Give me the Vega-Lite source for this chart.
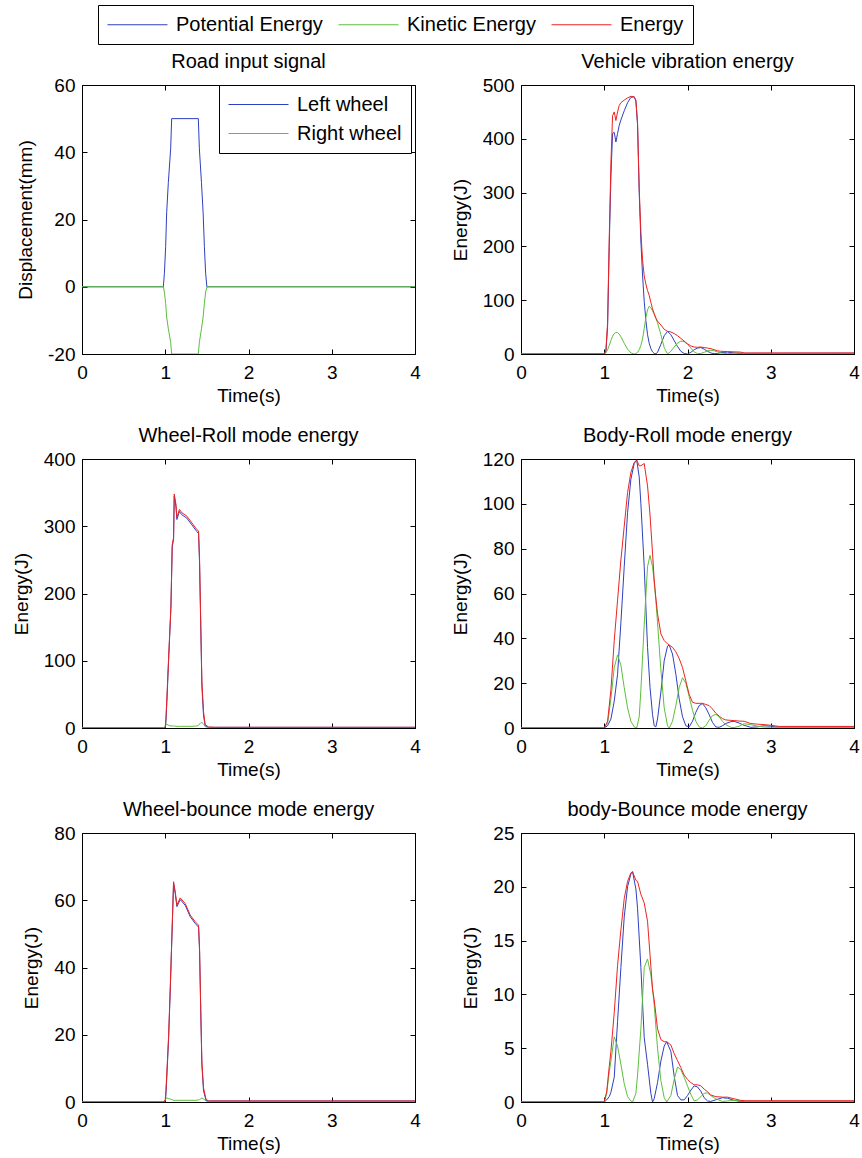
{
"$schema": "https://vega.github.io/schema/vega-lite/v6.json",
"autosize": {"type": "pad"},
"padding": {"left": 11, "top": 4, "right": 0, "bottom": 0},
"background": "white",
"config": {
 "font": "Liberation Sans",
 "view": {"stroke": "black", "strokeWidth": 1},
 "axis": {"grid": false, "domainColor": "black", "tickColor": "black", "labelColor": "black", "titleColor": "black", "labelFontSize": 19, "titleFontSize": 19, "titleFontWeight": "normal", "labelFont": "Liberation Sans", "titleFont": "Liberation Sans", "tickSize": -5, "labelFlush": false, "labelOverlap": false},
 "axisX": {"labelPadding": 14, "titlePadding": 4},
 "axisY": {"labelPadding": 12, "titlePadding": 12},
 "title": {"fontSize": 20, "fontWeight": "normal", "font": "Liberation Sans", "offset": 4, "color": "black"},
 "legend": {"labelFontSize": 20, "labelFont": "Liberation Sans", "labelColor": "black", "strokeColor": "black", "fillColor": "white", "symbolType": "M-3,0H3", "symbolStrokeWidth": 1, "symbolSize": 400, "symbolOffset": 20, "labelOffset": 28, "padding": 9, "columnPadding": 13, "rowPadding": 8, "labelLimit": 400}
},
"datasets": {
 "RI": [
  {"t":0,"L":0,"R":0},{"t":0.977,"L":0,"R":0},{"t":0.99,"L":4,"R":-1.6},{"t":1.005,"L":12,"R":-5},{"t":1.017,"L":22,"R":-9},{"t":1.037,"L":31,"R":-12.5},{"t":1.065,"L":41,"R":-16.5},{"t":1.077,"L":50,"R":-20},{"t":1.397,"L":50,"R":-20},{"t":1.41,"L":41,"R":-16.5},{"t":1.435,"L":31,"R":-12.5},{"t":1.455,"L":22,"R":-9},{"t":1.47,"L":12,"R":-5},{"t":1.485,"L":4,"R":-1.6},{"t":1.5,"L":0,"R":0},{"t":4,"L":0,"R":0}
 ],
 "VV": [
  {"t":0,"P":0,"K":0,"E":0},{"t":0.98,"P":0,"K":0,"E":0},{"t":1.0,"P":0,"K":0,"E":0},{"t":1.02,"P":5,"K":2,"E":7},{"t":1.04,"P":50,"K":8,"E":58},{"t":1.06,"P":200,"K":16,"E":216},{"t":1.08,"P":330,"K":25,"E":355},{"t":1.10,"P":410,"K":33,"E":443},{"t":1.12,"P":412,"K":38,"E":450},{"t":1.14,"P":394,"K":40,"E":434},{"t":1.16,"P":410,"K":40,"E":450},{"t":1.18,"P":425,"K":37,"E":462},{"t":1.20,"P":435,"K":32,"E":467},{"t":1.24,"P":452,"K":20,"E":472},{"t":1.28,"P":467,"K":9,"E":476},{"t":1.32,"P":477,"K":2,"E":479},{"t":1.36,"P":478,"K":0,"E":478},{"t":1.38,"P":470,"K":1,"E":472},{"t":1.40,"P":426,"K":3,"E":430},{"t":1.42,"P":300,"K":8,"E":308},{"t":1.44,"P":210,"K":16,"E":226},{"t":1.46,"P":147,"K":28,"E":175},{"t":1.48,"P":98,"K":47,"E":145},{"t":1.50,"P":62,"K":68,"E":130},{"t":1.52,"P":36,"K":82,"E":118},{"t":1.54,"P":20,"K":89,"E":109},{"t":1.56,"P":10,"K":86,"E":96},{"t":1.58,"P":4,"K":80,"E":84},{"t":1.60,"P":1,"K":74,"E":75},{"t":1.62,"P":0.5,"K":66,"E":67},{"t":1.64,"P":3,"K":58,"E":61},{"t":1.68,"P":18,"K":36,"E":54},{"t":1.72,"P":34,"K":12,"E":46},{"t":1.76,"P":42,"K":0,"E":42},{"t":1.80,"P":36,"K":5,"E":41},{"t":1.84,"P":25,"K":13,"E":38},{"t":1.88,"P":14,"K":20,"E":34},{"t":1.92,"P":5,"K":24,"E":29},{"t":1.96,"P":1,"K":23,"E":24},{"t":2.0,"P":0,"K":18,"E":19},{"t":2.04,"P":3,"K":11,"E":15},{"t":2.08,"P":8,"K":4,"E":13},{"t":2.12,"P":11,"K":0.5,"E":12.5},{"t":2.16,"P":12,"K":1,"E":13},{"t":2.20,"P":9,"K":3,"E":12},{"t":2.24,"P":5,"K":6,"E":11},{"t":2.28,"P":2,"K":7,"E":10},{"t":2.32,"P":0.5,"K":6,"E":8},{"t":2.36,"P":1,"K":4,"E":6},{"t":2.40,"P":2.5,"K":2,"E":5},{"t":2.48,"P":3.5,"K":0.5,"E":4.5},{"t":2.56,"P":2,"K":1.5,"E":4},{"t":2.64,"P":1,"K":2,"E":3.5},{"t":2.68,"P":1.2,"K":0.6,"E":2},{"t":4,"P":1.5,"K":0.5,"E":2}
 ],
 "WR": [
  {"t":0,"P":0,"K":0,"E":0},{"t":0.98,"P":0,"K":0,"E":0},{"t":1.0,"P":0,"K":2,"E":2},{"t":1.008,"P":9,"K":5,"E":14},{"t":1.02,"P":40,"K":5.5,"E":46},{"t":1.04,"P":100,"K":4,"E":104},{"t":1.068,"P":178,"K":3,"E":181},{"t":1.084,"P":270,"K":3,"E":273},{"t":1.10,"P":280,"K":3,"E":283},{"t":1.108,"P":345,"K":3,"E":348},{"t":1.128,"P":330,"K":2.5,"E":333},{"t":1.14,"P":310,"K":2.5,"E":313},{"t":1.17,"P":322,"K":2.5,"E":325},{"t":1.2,"P":317,"K":2.5,"E":320},{"t":1.26,"P":312,"K":2.5,"E":315},{"t":1.32,"P":302,"K":2.5,"E":305},{"t":1.38,"P":292,"K":3,"E":295},{"t":1.40,"P":289,"K":4,"E":293},{"t":1.412,"P":245,"K":6,"E":251},{"t":1.428,"P":140,"K":8,"E":148},{"t":1.44,"P":62,"K":8,"E":70},{"t":1.46,"P":18,"K":6,"E":24},{"t":1.48,"P":3,"K":2,"E":5},{"t":1.52,"P":1,"K":0.5,"E":1.5},{"t":1.6,"P":1,"K":0,"E":1},{"t":4,"P":1,"K":0,"E":1}
 ],
 "BR": [
  {"t":0,"P":0,"K":0,"E":0},{"t":1.0,"P":0,"K":0,"E":0},{"t":1.04,"P":1,"K":2,"E":3},{"t":1.08,"P":4,"K":13,"E":17},{"t":1.12,"P":12,"K":27,"E":39},{"t":1.16,"P":24,"K":32.6,"E":57},{"t":1.20,"P":47,"K":28,"E":75},{"t":1.24,"P":72,"K":18,"E":90},{"t":1.28,"P":96,"K":9,"E":105},{"t":1.32,"P":111,"K":3,"E":114},{"t":1.36,"P":118,"K":0.5,"E":118.5},{"t":1.39,"P":119.5,"K":0,"E":119.5},{"t":1.42,"P":112,"K":5,"E":117},{"t":1.44,"P":100,"K":17,"E":117},{"t":1.48,"P":72,"K":46,"E":118},{"t":1.52,"P":36,"K":72,"E":108},{"t":1.55,"P":18,"K":77,"E":95},{"t":1.58,"P":6,"K":72,"E":78},{"t":1.60,"P":1,"K":65,"E":66},{"t":1.62,"P":0.5,"K":57,"E":58},{"t":1.64,"P":4,"K":47,"E":51},{"t":1.68,"P":16,"K":26,"E":42},{"t":1.72,"P":30,"K":9,"E":39},{"t":1.76,"P":36.5,"K":1,"E":37.5},{"t":1.78,"P":37,"K":0,"E":37},{"t":1.82,"P":33,"K":3,"E":36},{"t":1.86,"P":24,"K":10,"E":34},{"t":1.90,"P":13,"K":18,"E":31},{"t":1.94,"P":5,"K":22.4,"E":27},{"t":1.98,"P":1,"K":20,"E":21},{"t":2.02,"P":0.5,"K":14,"E":15},{"t":2.06,"P":3,"K":8,"E":11.5},{"t":2.10,"P":7,"K":3,"E":11},{"t":2.14,"P":10,"K":0.5,"E":11},{"t":2.18,"P":10.9,"K":0,"E":11},{"t":2.22,"P":9,"K":1,"E":10.5},{"t":2.26,"P":6,"K":3.5,"E":10},{"t":2.30,"P":2.5,"K":5.5,"E":8.5},{"t":2.34,"P":0.5,"K":6.1,"E":6.6},{"t":2.38,"P":0.3,"K":5,"E":5.3},{"t":2.42,"P":1,"K":3,"E":4.2},{"t":2.46,"P":2,"K":1.5,"E":3.6},{"t":2.52,"P":2.8,"K":0.3,"E":3.4},{"t":2.56,"P":3,"K":0.2,"E":3.3},{"t":2.62,"P":2.2,"K":0.8,"E":3.1},{"t":2.68,"P":1.2,"K":1.9,"E":3.0},{"t":2.76,"P":0.3,"K":1.5,"E":2.0},{"t":2.84,"P":0.5,"K":0.8,"E":1.7},{"t":2.92,"P":1,"K":0.4,"E":1.5},{"t":3.0,"P":0.8,"K":0.3,"E":1.2},{"t":3.06,"P":0.5,"K":0.3,"E":0.9},{"t":3.1,"P":0.4,"K":0.3,"E":0.7},{"t":4,"P":0.4,"K":0.3,"E":0.7}
 ],
 "WB": [
  {"t":0,"P":0,"K":0,"E":0},{"t":0.98,"P":0,"K":0,"E":0},{"t":1.0,"P":0.2,"K":0.5,"E":0.7},{"t":1.008,"P":2.2,"K":1.1,"E":3.3},{"t":1.02,"P":8,"K":1.2,"E":9.2},{"t":1.04,"P":18.6,"K":1,"E":19.6},{"t":1.06,"P":33,"K":0.9,"E":33.9},{"t":1.08,"P":49,"K":0.7,"E":49.7},{"t":1.10,"P":65,"K":0.5,"E":65.5},{"t":1.12,"P":62,"K":0.5,"E":62.5},{"t":1.14,"P":58.1,"K":0.5,"E":58.6},{"t":1.18,"P":60.2,"K":0.5,"E":60.7},{"t":1.24,"P":58.5,"K":0.5,"E":59},{"t":1.30,"P":55.1,"K":0.5,"E":55.6},{"t":1.36,"P":53.1,"K":0.5,"E":53.6},{"t":1.40,"P":52,"K":0.6,"E":52.6},{"t":1.412,"P":45,"K":0.7,"E":45.7},{"t":1.428,"P":25,"K":1,"E":26},{"t":1.44,"P":10.9,"K":1.2,"E":12.1},{"t":1.46,"P":3.3,"K":0.9,"E":4.2},{"t":1.49,"P":0.5,"K":0.3,"E":0.8},{"t":1.52,"P":0.3,"K":0,"E":0.3},{"t":4,"P":0.3,"K":0,"E":0.3}
 ],
 "BB": [
  {"t":0,"P":0,"K":0,"E":0},{"t":1.0,"P":0,"K":0,"E":0},{"t":1.03,"P":0.2,"K":0.8,"E":1.0},{"t":1.06,"P":0.5,"K":2.8,"E":3.3},{"t":1.08,"P":0.9,"K":3.8,"E":4.7},{"t":1.12,"P":2.3,"K":6.05,"E":8.3},{"t":1.16,"P":7.5,"K":5.2,"E":12.7},{"t":1.20,"P":12.5,"K":3.5,"E":16.0},{"t":1.24,"P":17.2,"K":1.7,"E":18.9},{"t":1.28,"P":20,"K":0.5,"E":20.5},{"t":1.32,"P":21.2,"K":0.1,"E":21.3},{"t":1.34,"P":21.4,"K":0,"E":21.4},{"t":1.38,"P":19.8,"K":0.8,"E":20.6},{"t":1.40,"P":18,"K":2.5,"E":20.5},{"t":1.44,"P":12.5,"K":6.8,"E":19.3},{"t":1.48,"P":6,"K":12.5,"E":18.5},{"t":1.52,"P":3.5,"K":13.3,"E":16.8},{"t":1.56,"P":0.8,"K":11.8,"E":12.6},{"t":1.58,"P":0,"K":10.5,"E":10.5},{"t":1.60,"P":0.3,"K":9,"E":9.5},{"t":1.64,"P":1.8,"K":5,"E":6.8},{"t":1.68,"P":3.8,"K":2,"E":5.8},{"t":1.72,"P":5.2,"K":0.4,"E":5.6},{"t":1.75,"P":5.6,"K":0,"E":5.6},{"t":1.80,"P":4.7,"K":0.6,"E":5.3},{"t":1.84,"P":2.4,"K":2.1,"E":4.5},{"t":1.88,"P":0.6,"K":3.25,"E":3.85},{"t":1.92,"P":0.2,"K":3.0,"E":3.2},{"t":1.96,"P":0.2,"K":2.3,"E":2.5},{"t":2.0,"P":0.6,"K":1.5,"E":2.1},{"t":2.04,"P":1.1,"K":0.7,"E":1.8},{"t":2.08,"P":1.5,"K":0.1,"E":1.6},{"t":2.12,"P":1.4,"K":0.2,"E":1.6},{"t":2.16,"P":1.0,"K":0.5,"E":1.5},{"t":2.20,"P":0.4,"K":0.8,"E":1.2},{"t":2.24,"P":0.1,"K":0.85,"E":0.95},{"t":2.28,"P":0.05,"K":0.6,"E":0.65},{"t":2.34,"P":0.2,"K":0.3,"E":0.5},{"t":2.42,"P":0.4,"K":0.05,"E":0.45},{"t":2.48,"P":0.35,"K":0.1,"E":0.45},{"t":2.56,"P":0.15,"K":0.15,"E":0.3},{"t":2.64,"P":0.05,"K":0.1,"E":0.15},{"t":2.7,"P":0.05,"K":0.05,"E":0.12},{"t":4,"P":0.05,"K":0.05,"E":0.12}
 ]
},
"columns": 2,
"bounds": "flush",
"spacing": {"row": 105, "column": 106},
"resolve": {"scale": {"color": "shared", "stroke": "independent"}, "legend": {"color": "shared", "stroke": "independent"}},
"concat": [
 {
  "title": "Road input signal",
  "width": 333, "height": 269,
  "data": {"name": "RI"},
  "transform": [{"fold": ["L", "R"], "as": ["s", "v"]}],
  "layer": [
   {"mark": {"type": "line", "strokeWidth": 1, "clip": true},
    "encoding": {
     "x": {"field": "t", "type": "quantitative", "scale": {"domain": [0, 4], "nice": false}, "axis": {"values": [0, 1, 2, 3, 4], "title": "Time(s)"}},
     "y": {"field": "v", "type": "quantitative", "scale": {"domain": [-20, 60], "nice": false, "zero": false}, "axis": {"values": [-20, 0, 20, 40, 60], "title": "Displacement(mm)", "labelExpr": "'' + datum.value"}},
     "stroke": {"field": "s", "type": "nominal", "scale": {"domain": ["L", "R"], "range": ["#2f3fbf", "#5cbf3c"]},
      "legend": {"title": null, "orient": "none", "legendX": 137, "legendY": 0, "direction": "vertical", "labelExpr": "datum.label == 'L' ? 'Left wheel' : 'Right wheel'"}}
    }},
   {"mark": {"type": "line", "opacity": 0},
    "encoding": {
     "x": {"field": "t", "type": "quantitative", "axis": {"orient": "top", "values": [0, 1, 2, 3, 4], "labels": false, "title": null, "domain": false}},
     "y": {"field": "v", "type": "quantitative", "axis": {"orient": "right", "values": [-20, 0, 20, 40, 60], "labels": false, "title": null, "domain": false}}
    }}
  ],
  "resolve": {"axis": {"x": "independent", "y": "independent"}}
 },
 {
  "title": "Vehicle vibration energy",
  "width": 333, "height": 269,
  "data": {"name": "VV"},
  "transform": [{"fold": ["P", "K", "E"], "as": ["s", "v"]}],
  "layer": [
   {"mark": {"type": "line", "strokeWidth": 1, "clip": true},
    "encoding": {
     "x": {"field": "t", "type": "quantitative", "scale": {"domain": [0, 4], "nice": false}, "axis": {"values": [0, 1, 2, 3, 4], "title": "Time(s)"}},
     "y": {"field": "v", "type": "quantitative", "scale": {"domain": [0, 500], "nice": false}, "axis": {"values": [0, 100, 200, 300, 400, 500], "title": "Energy(J)"}},
     "color": {"field": "s", "type": "nominal", "scale": {"domain": ["P", "K", "E"], "range": ["#2f3fbf", "#5cbf3c", "#ee2222"]},
      "legend": {"title": null, "orient": "none", "legendX": 16, "legendY": -80, "direction": "horizontal", "labelExpr": "datum.label == 'P' ? 'Potential Energy' : datum.label == 'K' ? 'Kinetic Energy' : 'Energy'"}}
    }},
   {"mark": {"type": "line", "opacity": 0},
    "encoding": {
     "x": {"field": "t", "type": "quantitative", "axis": {"orient": "top", "values": [0, 1, 2, 3, 4], "labels": false, "title": null, "domain": false}},
     "y": {"field": "v", "type": "quantitative", "axis": {"orient": "right", "values": [0, 100, 200, 300, 400, 500], "labels": false, "title": null, "domain": false}}
    }}
  ],
  "resolve": {"axis": {"x": "independent", "y": "independent"}}
 },
 {
  "title": "Wheel-Roll mode energy",
  "width": 333, "height": 269,
  "data": {"name": "WR"},
  "transform": [{"fold": ["P", "K", "E"], "as": ["s", "v"]}],
  "layer": [
   {"mark": {"type": "line", "strokeWidth": 1, "clip": true},
    "encoding": {
     "x": {"field": "t", "type": "quantitative", "scale": {"domain": [0, 4], "nice": false}, "axis": {"values": [0, 1, 2, 3, 4], "title": "Time(s)"}},
     "y": {"field": "v", "type": "quantitative", "scale": {"domain": [0, 400], "nice": false}, "axis": {"values": [0, 100, 200, 300, 400], "title": "Energy(J)"}},
     "color": {"field": "s", "type": "nominal", "scale": {"domain": ["P", "K", "E"], "range": ["#2f3fbf", "#5cbf3c", "#ee2222"]},
      "legend": {"title": null, "orient": "none", "legendX": 16, "legendY": -80, "direction": "horizontal", "labelExpr": "datum.label == 'P' ? 'Potential Energy' : datum.label == 'K' ? 'Kinetic Energy' : 'Energy'"}}
    }},
   {"mark": {"type": "line", "opacity": 0},
    "encoding": {
     "x": {"field": "t", "type": "quantitative", "axis": {"orient": "top", "values": [0, 1, 2, 3, 4], "labels": false, "title": null, "domain": false}},
     "y": {"field": "v", "type": "quantitative", "axis": {"orient": "right", "values": [0, 100, 200, 300, 400], "labels": false, "title": null, "domain": false}}
    }}
  ],
  "resolve": {"axis": {"x": "independent", "y": "independent"}}
 },
 {
  "title": "Body-Roll mode energy",
  "width": 333, "height": 269,
  "data": {"name": "BR"},
  "transform": [{"fold": ["P", "K", "E"], "as": ["s", "v"]}],
  "layer": [
   {"mark": {"type": "line", "strokeWidth": 1, "clip": true},
    "encoding": {
     "x": {"field": "t", "type": "quantitative", "scale": {"domain": [0, 4], "nice": false}, "axis": {"values": [0, 1, 2, 3, 4], "title": "Time(s)"}},
     "y": {"field": "v", "type": "quantitative", "scale": {"domain": [0, 120], "nice": false}, "axis": {"values": [0, 20, 40, 60, 80, 100, 120], "title": "Energy(J)"}},
     "color": {"field": "s", "type": "nominal", "scale": {"domain": ["P", "K", "E"], "range": ["#2f3fbf", "#5cbf3c", "#ee2222"]},
      "legend": {"title": null, "orient": "none", "legendX": 16, "legendY": -80, "direction": "horizontal", "labelExpr": "datum.label == 'P' ? 'Potential Energy' : datum.label == 'K' ? 'Kinetic Energy' : 'Energy'"}}
    }},
   {"mark": {"type": "line", "opacity": 0},
    "encoding": {
     "x": {"field": "t", "type": "quantitative", "axis": {"orient": "top", "values": [0, 1, 2, 3, 4], "labels": false, "title": null, "domain": false}},
     "y": {"field": "v", "type": "quantitative", "axis": {"orient": "right", "values": [0, 20, 40, 60, 80, 100, 120], "labels": false, "title": null, "domain": false}}
    }}
  ],
  "resolve": {"axis": {"x": "independent", "y": "independent"}}
 },
 {
  "title": "Wheel-bounce mode energy",
  "width": 333, "height": 269,
  "data": {"name": "WB"},
  "transform": [{"fold": ["P", "K", "E"], "as": ["s", "v"]}],
  "layer": [
   {"mark": {"type": "line", "strokeWidth": 1, "clip": true},
    "encoding": {
     "x": {"field": "t", "type": "quantitative", "scale": {"domain": [0, 4], "nice": false}, "axis": {"values": [0, 1, 2, 3, 4], "title": "Time(s)"}},
     "y": {"field": "v", "type": "quantitative", "scale": {"domain": [0, 80], "nice": false}, "axis": {"values": [0, 20, 40, 60, 80], "title": "Energy(J)"}},
     "color": {"field": "s", "type": "nominal", "scale": {"domain": ["P", "K", "E"], "range": ["#2f3fbf", "#5cbf3c", "#ee2222"]},
      "legend": {"title": null, "orient": "none", "legendX": 16, "legendY": -80, "direction": "horizontal", "labelExpr": "datum.label == 'P' ? 'Potential Energy' : datum.label == 'K' ? 'Kinetic Energy' : 'Energy'"}}
    }},
   {"mark": {"type": "line", "opacity": 0},
    "encoding": {
     "x": {"field": "t", "type": "quantitative", "axis": {"orient": "top", "values": [0, 1, 2, 3, 4], "labels": false, "title": null, "domain": false}},
     "y": {"field": "v", "type": "quantitative", "axis": {"orient": "right", "values": [0, 20, 40, 60, 80], "labels": false, "title": null, "domain": false}}
    }}
  ],
  "resolve": {"axis": {"x": "independent", "y": "independent"}}
 },
 {
  "title": "body-Bounce mode energy",
  "width": 333, "height": 269,
  "data": {"name": "BB"},
  "transform": [{"fold": ["P", "K", "E"], "as": ["s", "v"]}],
  "layer": [
   {"mark": {"type": "line", "strokeWidth": 1, "clip": true},
    "encoding": {
     "x": {"field": "t", "type": "quantitative", "scale": {"domain": [0, 4], "nice": false}, "axis": {"values": [0, 1, 2, 3, 4], "title": "Time(s)"}},
     "y": {"field": "v", "type": "quantitative", "scale": {"domain": [0, 25], "nice": false}, "axis": {"values": [0, 5, 10, 15, 20, 25], "title": "Energy(J)"}},
     "color": {"field": "s", "type": "nominal", "scale": {"domain": ["P", "K", "E"], "range": ["#2f3fbf", "#5cbf3c", "#ee2222"]},
      "legend": {"title": null, "orient": "none", "legendX": 16, "legendY": -80, "direction": "horizontal", "labelExpr": "datum.label == 'P' ? 'Potential Energy' : datum.label == 'K' ? 'Kinetic Energy' : 'Energy'"}}
    }},
   {"mark": {"type": "line", "opacity": 0},
    "encoding": {
     "x": {"field": "t", "type": "quantitative", "axis": {"orient": "top", "values": [0, 1, 2, 3, 4], "labels": false, "title": null, "domain": false}},
     "y": {"field": "v", "type": "quantitative", "axis": {"orient": "right", "values": [0, 5, 10, 15, 20, 25], "labels": false, "title": null, "domain": false}}
    }}
  ],
  "resolve": {"axis": {"x": "independent", "y": "independent"}}
 }
]
}
